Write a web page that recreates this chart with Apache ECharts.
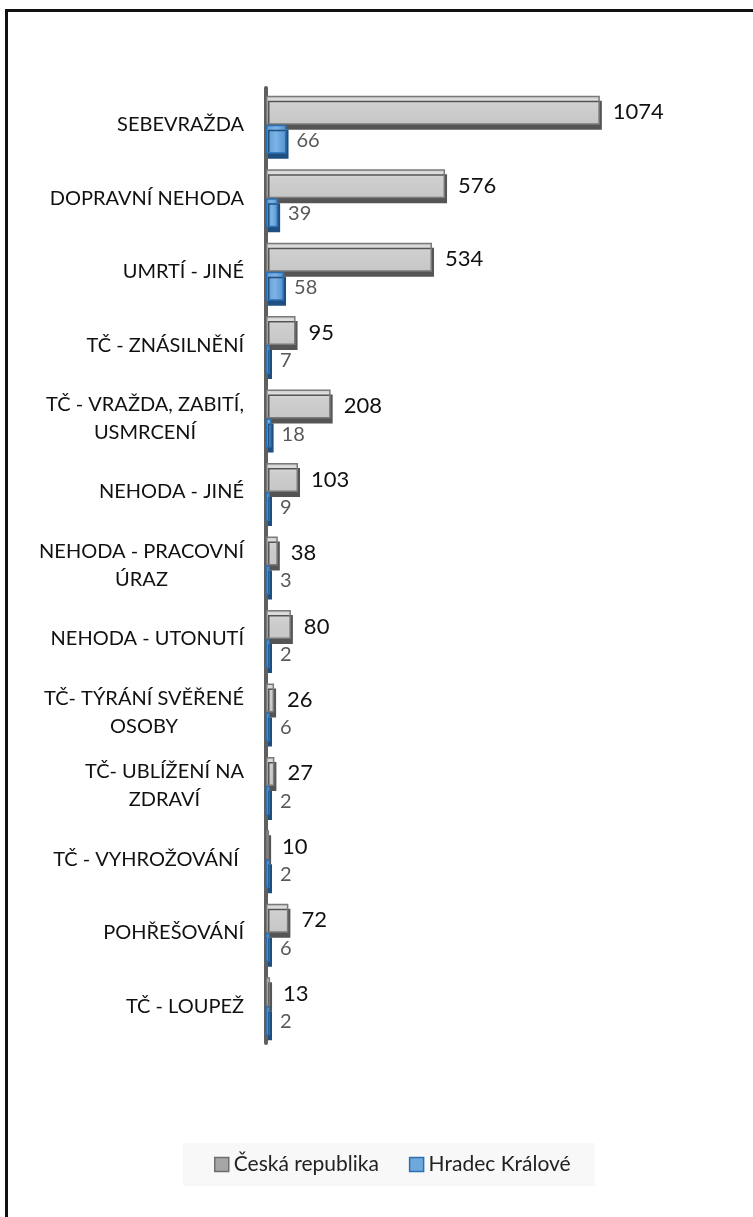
<!DOCTYPE html>
<html>
<head>
<meta charset="utf-8">
<script src="https://cdn.jsdelivr.net/npm/echarts@6/dist/echarts.min.js"></script>
<style>
  html, body { margin: 0; padding: 0; background: #fff; overflow: hidden; }
  #frame {
    position: absolute; left: 5px; top: 9px; width: 900px; height: 1400px;
    border-left: 3px solid #111; border-top: 3px solid #111;
  }
  #chart { position: absolute; left: 0; top: 0; width: 753px; height: 1217px; }
</style>
</head>
<body>
<div id="frame"></div>
<div id="chart"></div>
<script>
const categories = [
  "SEBEVRAŽDA",
  "DOPRAVNÍ NEHODA",
  "UMRTÍ - JINÉ",
  "TČ - ZNÁSILNĚNÍ",
  "TČ - VRAŽDA, ZABITÍ,\nUSMRCENÍ",
  "NEHODA - JINÉ",
  "NEHODA - PRACOVNÍ\nÚRAZ",
  "NEHODA - UTONUTÍ",
  "TČ- TÝRÁNÍ SVĚŘENÉ\nOSOBY",
  "TČ- UBLÍŽENÍ NA\nZDRAVÍ",
  "TČ - VYHROŽOVÁNÍ ",
  "POHŘEŠOVÁNÍ",
  "TČ - LOUPEŽ"
];
const ceskaRepublika = [1074, 576, 534, 95, 208, 103, 38, 80, 26, 27, 10, 72, 13];
const hradecKralove = [66, 39, 58, 7, 18, 9, 3, 2, 6, 2, 2, 6, 2];
const seriesNames = ["Česká republika", "Hradec Králové"];

const font = "Lato, 'Open Sans', sans-serif";
const chart = echarts.init(document.getElementById("chart"), null, { renderer: "canvas" });

chart.setOption({
  animation: false,
  textStyle: { fontFamily: font },
  grid: { left: 266, right: 114, top: 88, height: 955 },
  xAxis: {
    type: "value",
    min: 0,
    max: 1200,
    show: false
  },
  yAxis: {
    type: "category",
    inverse: true,
    data: categories,
    axisLine: { show: true, lineStyle: { color: "#5f5f5f", width: 4 } },
    axisTick: { show: false },
    splitLine: { show: false },
    axisLabel: {
      margin: 22,
      formatter: (v) => v.split("\n").map((l) => `{c|${l}}`).join("\n"),
      rich: {
        c: { align: "center", fontSize: 20, lineHeight: 28, color: "#111", fontFamily: font }
      }
    }
  },
  legend: {
    left: 183,
    top: 1143,
    padding: [11, 24, 11, 31],
    backgroundColor: "#f8f8f8",
    itemWidth: 14,
    itemHeight: 14,
    itemGap: 30,
    icon: "rect",
    textStyle: { fontSize: 21, color: "#222", fontFamily: font },
    data: [
      { name: seriesNames[0], itemStyle: { color: "#a6a6a6", borderColor: "#6e6e6e", borderWidth: 1.5, shadowBlur: 0, shadowOffsetX: 0, shadowOffsetY: 0 } },
      { name: seriesNames[1], itemStyle: { color: "#6fa8dc", borderColor: "#2e6fb0", borderWidth: 1.5, shadowBlur: 0, shadowOffsetX: 0, shadowOffsetY: 0 } }
    ]
  },
  series: [
    {
      name: seriesNames[0],
      type: "bar",
      data: ceskaRepublika,
      barWidth: 29,
      barGap: "0%",
      barMinHeight: 3,
      itemStyle: {
        color: new echarts.graphic.LinearGradient(0, 0, 0, 1, [
          { offset: 0, color: "#c4c4c4" },
          { offset: 0.12, color: "#dedede" },
          { offset: 0.3, color: "#cfcfcf" },
          { offset: 1, color: "#c6c6c6" }
        ]),
        borderColor: "#7a7a7a",
        borderWidth: 1.5,
        shadowColor: "#555",
        shadowBlur: 0,
        shadowOffsetX: 2,
        shadowOffsetY: 5
      },
      label: {
        show: true,
        position: "right",
        distance: 13,
        offset: [0, 2],
        fontSize: 22,
        color: "#111",
        fontFamily: font
      }
    },
    {
      name: seriesNames[1],
      type: "bar",
      data: hradecKralove,
      barWidth: 29,
      barMinHeight: 4,
      itemStyle: {
        color: new echarts.graphic.LinearGradient(1, 0, 0, 0, [
          { offset: 0, color: "#4f8fd0" },
          { offset: 0.5, color: "#7db3e6" },
          { offset: 1, color: "#5b9bd5" }
        ]),
        borderColor: "#2e6fb0",
        borderWidth: 1.5,
        shadowColor: "#1f4f80",
        shadowBlur: 0,
        shadowOffsetX: 2,
        shadowOffsetY: 5
      },
      label: {
        show: true,
        position: "right",
        distance: 10,
        offset: [0, 1],
        fontSize: 20,
        color: "#595959",
        fontFamily: font
      }
    }
  ]
});
</script>
</body>
</html>
